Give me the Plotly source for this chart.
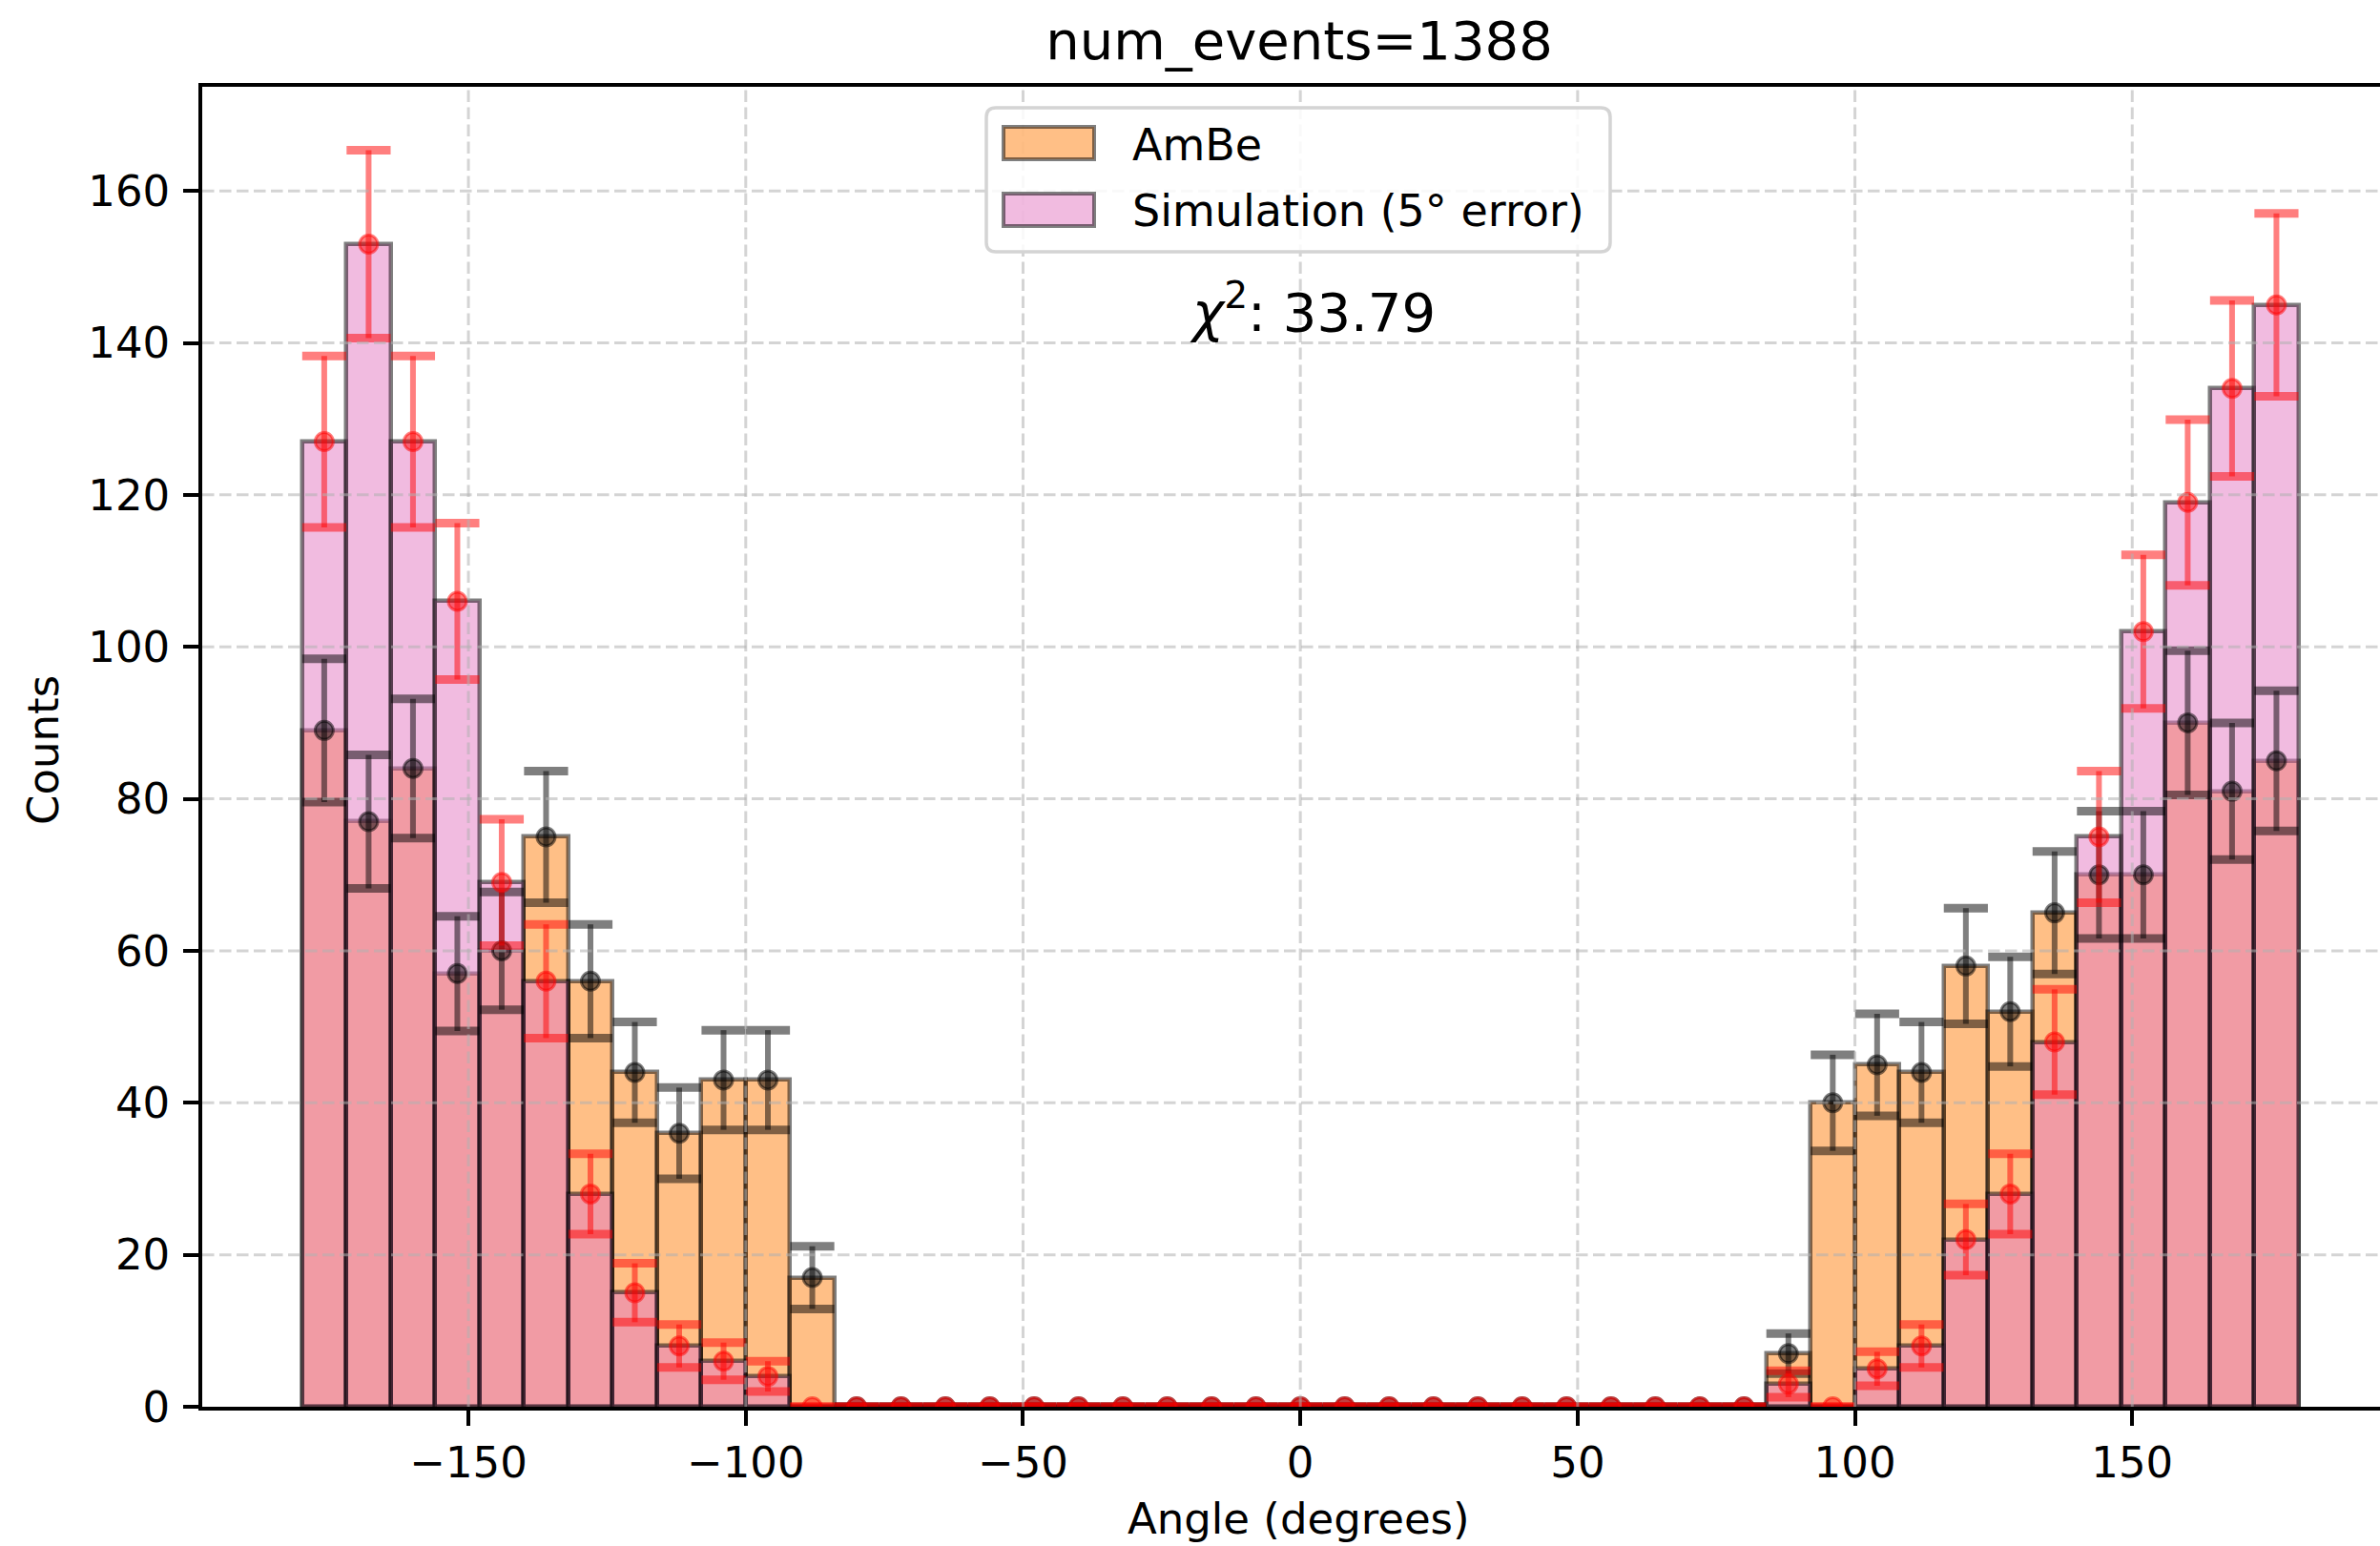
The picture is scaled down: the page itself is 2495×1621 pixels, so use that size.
import numpy as np
import plotly.graph_objects as go

# ---------------- data ----------------
angle_centers = [-176, -168, -160, -152, -144, -136, -128, -120, -112, -104, -96, -88,
                 -80, -72, -64, -56, -48, -40, -32, -24, -16, -8, 0, 8, 16, 24, 32, 40,
                 48, 56, 64, 72, 80,
                 88, 96, 104, 112, 120, 128, 136, 144, 152, 160, 168, 176]
bin_width = 8

ambe_counts = [89, 77, 84, 57, 60, 75, 56, 44, 36, 43, 43, 17,
               0, 0, 0, 0, 0, 0, 0, 0, 0, 0, 0, 0, 0, 0, 0, 0, 0, 0, 0, 0, 0,
               7, 40, 45, 44, 58, 52, 65, 70, 70, 90, 81, 85]
sim_counts = [127, 153, 127, 106, 69, 56, 28, 15, 8, 6, 4, 0,
              0, 0, 0, 0, 0, 0, 0, 0, 0, 0, 0, 0, 0, 0, 0, 0, 0, 0, 0, 0, 0,
              3, 0, 5, 8, 22, 28, 48, 75, 102, 119, 134, 145]

x_ticks = [-150, -100, -50, 0, 50, 100, 150]
y_ticks = [0, 20, 40, 60, 80, 100, 120, 140, 160]

title_text = "num_events=1388"
chi2_text = "<i>χ</i><sup>2</sup>: 33.79"
legend_labels = ["AmBe", "Simulation (5° error)"]

# ---------------- layout geometry (pixels) ----------------
W, H = 2495, 1621
ML, MR, MT, MB = 212, 0, 91, 146
PW = W - ML - MR
PH = H - MT - MB
BOTTOM = MT + PH
PX_PER_UNIT = 5.814
X_RANGE = [-198, -198 + PW / PX_PER_UNIT]
Y_RANGE = [0, 173.7]

FONT = "DejaVu Sans"


def xp(px):
    return (px - ML) / PW


def yp(py):
    return (BOTTOM - py) / PH


ambe = np.array(ambe_counts, dtype=float)
sim = np.array(sim_counts, dtype=float)
x = np.array(angle_centers, dtype=float)
ambe_err = np.sqrt(ambe)
sim_err = np.sqrt(sim)

ORANGE = "rgba(255,127,14,0.5)"
PINK = "rgba(227,119,194,0.5)"
EDGE = "rgba(0,0,0,0.5)"
BLACK_EB = "rgba(0,0,0,0.5)"
RED_EB = "rgba(255,0,0,0.5)"

fig = go.Figure()

fig.add_trace(go.Bar(x=x, y=ambe, width=bin_width, name=legend_labels[0],
                     marker=dict(color=ORANGE, line=dict(color=EDGE, width=4.5)),
                     showlegend=False))
fig.add_trace(go.Bar(x=x, y=sim, width=bin_width, name=legend_labels[1],
                     marker=dict(color=PINK, line=dict(color=EDGE, width=4.5)),
                     showlegend=False))


def add_errorbars(values, errs, color):
    fig.add_trace(go.Scatter(
        x=x, y=values, mode="markers",
        marker=dict(color=color, size=19, line=dict(width=3, color=color)),
        error_y=dict(type="data", array=errs, color=color, thickness=6, width=0),
        showlegend=False, hoverinfo="skip"))
    fig.add_trace(go.Scatter(
        x=np.concatenate([x, x]), y=np.concatenate([values + errs, values - errs]),
        mode="markers",
        marker=dict(symbol="line-ew", size=33, color=color,
                    line=dict(color=color, width=9)),
        showlegend=False, hoverinfo="skip"))


add_errorbars(ambe, ambe_err, BLACK_EB)
add_errorbars(sim, sim_err, RED_EB)

shapes = []
GRID = "rgba(176,176,176,0.55)"
for t in x_ticks:
    shapes.append(dict(type="line", xref="x", yref="paper", x0=t, x1=t, y0=0, y1=1,
                       line=dict(color=GRID, width=3, dash="12.5px,5.5px"), layer="above"))
for t in y_ticks[1:]:
    shapes.append(dict(type="line", xref="paper", yref="y", x0=0, x1=1, y0=t, y1=t,
                       line=dict(color=GRID, width=3, dash="12.5px,5.5px"), layer="above"))

# legend frame (rounded box)
lx0, lx1, ly0, ly1, r = xp(1034), xp(1688), yp(264), yp(113), 10
rx, ry = r / PW, r / PH
path = (f"M {lx0+rx},{ly1} L {lx1-rx},{ly1} Q {lx1},{ly1} {lx1},{ly1-ry} "
        f"L {lx1},{ly0+ry} Q {lx1},{ly0} {lx1-rx},{ly0} L {lx0+rx},{ly0} "
        f"Q {lx0},{ly0} {lx0},{ly0+ry} L {lx0},{ly1-ry} Q {lx0},{ly1} {lx0+rx},{ly1} Z")
shapes.append(dict(type="path", xref="paper", yref="paper", path=path,
                   fillcolor="rgba(255,255,255,0.85)", line=dict(color="#d4d4d4", width=3.5),
                   layer="above"))
for (top, bot, col) in [(133, 167, ORANGE), (203, 237, PINK)]:
    shapes.append(dict(type="rect", xref="paper", yref="paper",
                       x0=xp(1052), x1=xp(1147), y0=yp(bot), y1=yp(top),
                       fillcolor=col, line=dict(color=EDGE, width=4), layer="above"))

annotations = [
    dict(text=legend_labels[0], xref="paper", yref="paper", x=xp(1185), y=yp(152),
         xanchor="left", yanchor="middle", showarrow=False,
         font=dict(family=FONT, size=46, color="black")),
    dict(text=legend_labels[1], xref="paper", yref="paper", x=xp(1185), y=yp(221),
         xanchor="left", yanchor="middle", showarrow=False,
         font=dict(family=FONT, size=46, color="black")),
    dict(text=chi2_text, xref="paper", yref="paper", x=xp(1376), y=yp(323),
         xanchor="center", yanchor="middle", showarrow=False,
         font=dict(family=FONT, size=56, color="black")),
    dict(text="Angle (degrees)", xref="paper", yref="paper", x=xp(1362), y=yp(1592),
         xanchor="center", yanchor="middle", showarrow=False,
         font=dict(family=FONT, size=45, color="black")),
    dict(text="Counts", xref="paper", yref="paper", x=xp(45), y=yp(787),
         xanchor="center", yanchor="middle", showarrow=False, textangle=-90,
         font=dict(family=FONT, size=45, color="black")),
]

fig.update_layout(
    width=W, height=H,
    margin=dict(l=ML, r=MR, t=MT, b=MB, pad=0),
    paper_bgcolor="white", plot_bgcolor="white",
    barmode="overlay", bargap=0,
    font=dict(family=FONT, size=45, color="black"),
    title=dict(text=title_text, x=1362 / W, xanchor="center", xref="container",
               y=1 - 42 / H, yanchor="middle", yref="container",
               font=dict(family=FONT, size=56, color="black")),
    shapes=shapes, annotations=annotations, showlegend=False,
    xaxis=dict(range=X_RANGE, tickvals=x_ticks, showgrid=False, zeroline=False,
               showline=True, linecolor="black", linewidth=3.6, mirror=True,
               ticks="outside", ticklen=16, tickwidth=3.6, tickcolor="black",
               tickfont=dict(family=FONT, size=45, color="black"),
               ticklabelstandoff=0),
    yaxis=dict(range=Y_RANGE, tickvals=y_ticks, showgrid=False, zeroline=False,
               showline=True, linecolor="black", linewidth=3.6, mirror=False,
               ticks="outside", ticklen=16, tickwidth=3.6, tickcolor="black",
               tickfont=dict(family=FONT, size=45, color="black"),
               ticklabelstandoff=5),
)

fig.write_html("out.html")
